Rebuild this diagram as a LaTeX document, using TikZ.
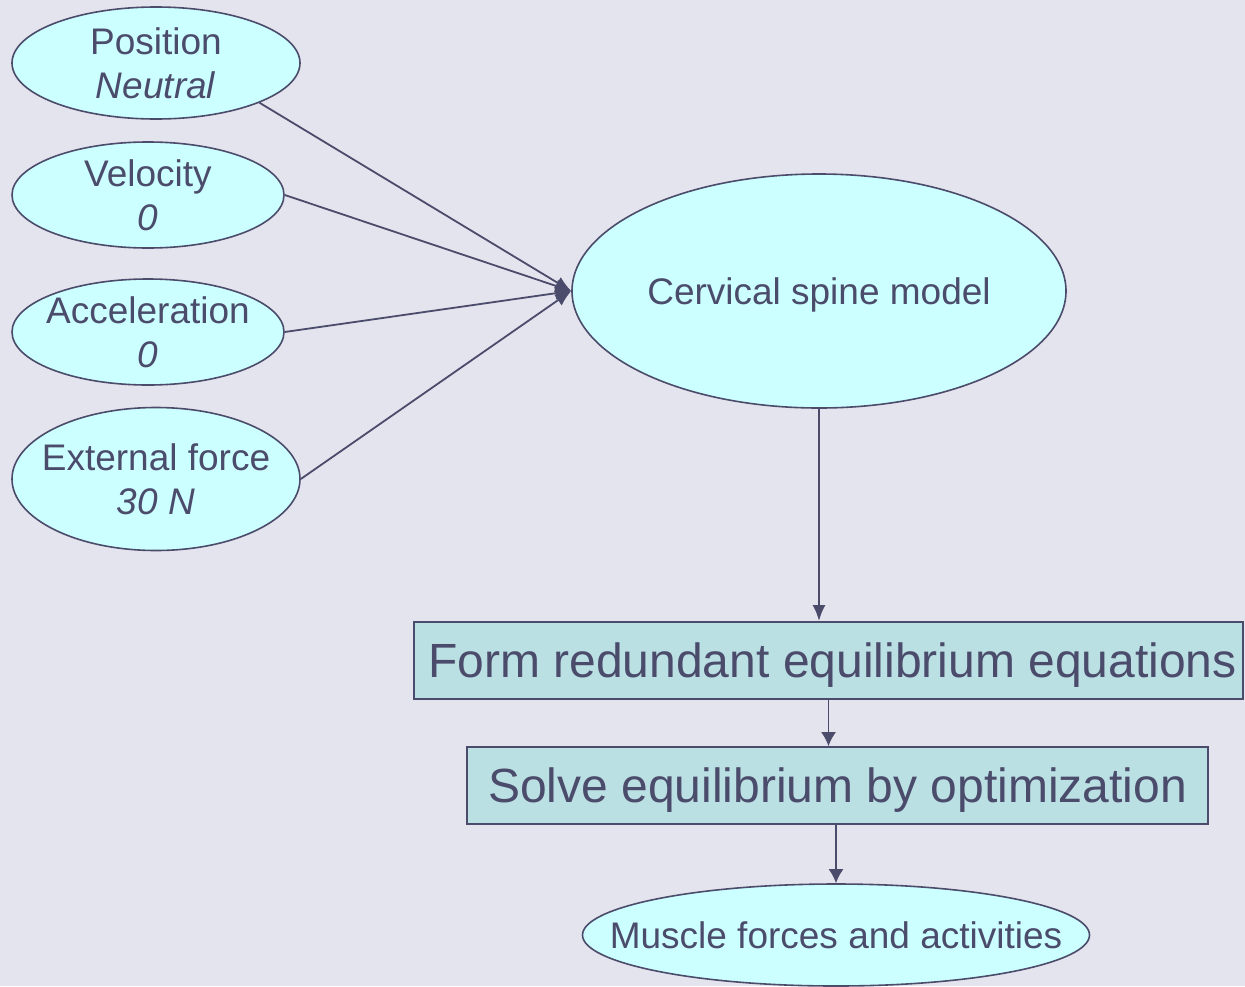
\documentclass[tikz,border=0pt]{standalone}
\usepackage{fontspec}
\setmainfont{Liberation Sans}
\usetikzlibrary{shapes.geometric,arrows.meta,positioning}
\definecolor{bgcol}{HTML}{E4E4EE}
\definecolor{ovalcol}{HTML}{CCFFFF}
\definecolor{boxcol}{HTML}{BBE0E3}
\definecolor{inkcol}{HTML}{4B4B6B}
\tikzset{
  inputoval/.style={ellipse, draw=inkcol, line width=1.6pt, fill=ovalcol,
    inner xsep=-60pt, inner ysep=-25pt, text depth=0pt,
    align=center, text=inkcol, font=\fontsize{37pt}{44pt}\selectfont},
  stagebox/.style={rectangle, draw=inkcol, line width=1.6pt, fill=boxcol, inner sep=0pt,
    minimum height=77pt, text depth=0pt, text=inkcol, font=\fontsize{48pt}{56pt}\selectfont},
  arr/.style={-{Latex[length=16pt,width=13pt]}, line width=1.8pt, draw=inkcol},
  smallarr/.style={-{Latex[length=14pt,width=15pt]}, line width=1.8pt, draw=inkcol}
}
\begin{document}
\begin{tikzpicture}[x=1pt, y=-1pt]
        \useasboundingbox (0,0) rectangle (1245,986);
        \fill[bgcol] (0,0) rectangle (1245,986);
        % inputs
        \node[inputoval, minimum width=288pt, minimum height=112pt]
          (pos) at (156,63) {Position\\\textit{Neutral}};
        \node[inputoval, minimum width=272pt, minimum height=106pt]
          (vel) at (148,195) {Velocity\\\textit{0}};
        \node[inputoval, minimum width=272pt, minimum height=106pt]
          (acc) at (148,332) {Acceleration\\\textit{0}};
        \node[inputoval, minimum width=288pt, minimum height=143pt]
          (ext) at (156,479) {External force\\\textit{30 N}};
        % model and steps
        \node[inputoval, minimum width=494pt, minimum height=234pt]
          (cerv) at (819,291) {Cervical spine model};
        \node[stagebox, minimum width=829pt]
          (form) at (828.5,660.5) {\hspace{8pt}Form redundant equilibrium equations};
        \node[stagebox, minimum width=741pt]
          (solve) at (837.5,785.5) {Solve equilibrium by optimization};
        \node[inputoval, minimum width=507pt, minimum height=102pt]
          (muscle) at (836,935) {Muscle forces and activities};
        \draw[arr] (pos.-21) -- (cerv.west);
        \draw[arr] (vel.east) -- (cerv.west);
        \draw[arr] (acc.east) -- (cerv.west);
        \draw[arr] (ext.east) -- (cerv.west);
        \draw[arr, line width=2.6pt] (cerv.south) -- (cerv.south |- form.north);
        \draw[smallarr] (form.south) -- (form.south |- solve.north);
        \draw[smallarr] (muscle.north |- solve.south) -- (muscle.north);
      \end{tikzpicture}
\end{document}
